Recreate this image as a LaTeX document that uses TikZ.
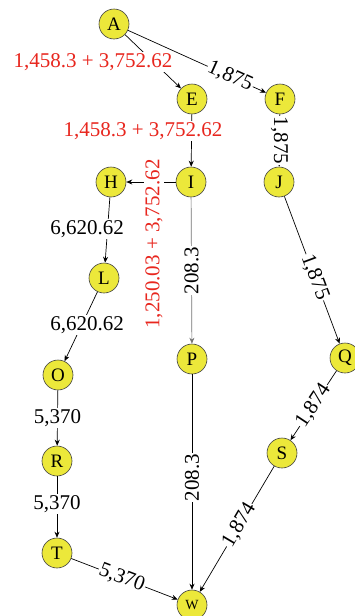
\documentclass[tikz,border=0pt]{standalone}
\usepackage{fontspec}
\setmainfont{Liberation Serif}
\usetikzlibrary{arrows.meta}
\definecolor{nodey}{RGB}{236,232,58}
\definecolor{lblred}{RGB}{232,38,30}
\begin{document}
\begin{tikzpicture}[x=1pt,y=-1pt,
  vtx/.style={circle,draw=black!75,fill=nodey,minimum size=30pt,inner sep=0pt,line width=0.6pt,font=\fontsize{19}{19}\selectfont},
  edge/.style={draw=black,line width=0.7pt,-{Stealth[length=6pt,width=5pt]}},
  lbl/.style={fill=white,inner sep=1pt,font=\fontsize{21}{21}\selectfont},
  rlbl/.style={lbl,text=lblred}]
\useasboundingbox (0,0) rectangle (354,616);
\node[vtx] (A) at (114,24) {A};
\node[vtx] (E) at (192,99) {E};
\node[vtx] (F) at (280,99) {F};
\node[vtx] (H) at (111,182) {H};
\node[vtx] (I) at (191,182) {I};
\node[vtx] (J) at (279,182) {J};
\node[vtx] (L) at (104,278) {L};
\node[vtx] (O) at (58,375) {O};
\node[vtx] (P) at (192,359) {P};
\node[vtx] (Q) at (345,358) {Q};
\node[vtx] (R) at (57,461) {R};
\node[vtx] (S) at (282,453) {S};
\node[vtx] (T) at (57,553) {T};
\node[vtx,font=\fontsize{14}{14}\selectfont] (W) at (192,605) {W};

\draw[edge] (A) -- (E);
\node[rlbl] (lAE) at (93,62) {1,458.3 + 3,752.62};
\draw[edge] (A) -- node[lbl,sloped,pos=0.74] {1,875} (F);
\draw[edge] (E) -- (I);
\node[rlbl] (lEI) at (143,131) {1,458.3 + 3,752.62};
\draw[edge] (F) -- node[lbl,rotate=-90,pos=0.5] {1,875} (J);
\draw[edge] (I) -- (H);
\node[rlbl,rotate=90] (lIH) at (154,244) {1,250.03 + 3,752.62};
\draw[edge,draw=black!55] (I) -- node[lbl,rotate=90,pos=0.5] {208.3} (P);
\draw[edge] (H) -- (L);
\node[lbl] (lHL) at (87,229) {6,620.62};
\draw[edge] (L) -- (O);
\node[lbl] (lLO) at (87,325) {6,620.62};
\draw[edge] (O) -- node[lbl] {5,370} (R);
\draw[edge] (R) -- node[lbl,pos=0.45] {5,370} (T);
\draw[edge] (T) -- node[lbl,sloped,pos=0.475] {5,370} (W);
\draw[edge] (P) -- node[lbl,rotate=90,pos=0.48] {208.3} (W);
\draw[edge] (J) -- node[lbl,sloped,pos=0.55] {1,875} (Q);
\draw[edge] (Q) -- node[lbl,sloped,pos=0.5] {1,874} (S);
\draw[edge] (S) -- node[lbl,sloped,pos=0.47] {1,874} (W);
\end{tikzpicture}
\end{document}
